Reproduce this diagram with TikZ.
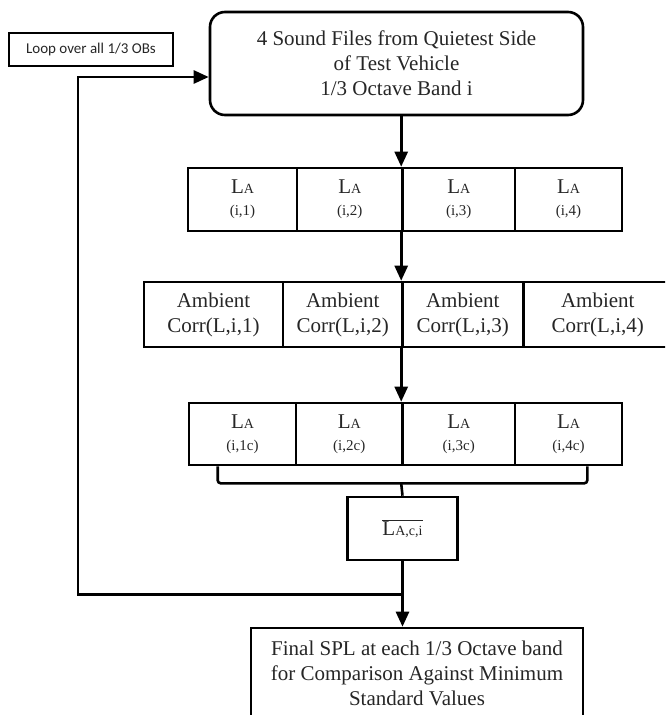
\documentclass[tikz,border=0pt]{standalone}
\usepackage{fontspec}
\setmainfont{Liberation Serif}
\newfontfamily\loopfont{Carlito}
\usetikzlibrary{positioning,calc,arrows.meta}
\tikzset{>={Triangle[length=15pt,width=13pt]}}
\tikzset{
  box/.style={draw,line width=2.6pt,inner sep=0pt,align=center,
    font=\fontsize{21}{25}\selectfont,text=black!85},
  lacell/.style={box,minimum height=63pt},
  ambcell/.style={box,minimum height=65pt},
  conn/.style={line width=2.6pt},
}
\newcommand{\lalabel}[1]{L{\fontsize{14}{16}\selectfont A}\\[-3pt]{\fontsize{15}{16}\selectfont (#1)}}

\begin{document}
\begin{tikzpicture}[x=1pt,y=-1pt]
\useasboundingbox (0,0) rectangle (665,715);
\clip (0,0) rectangle (665,715);

% Loop label and source files
\node[draw,line width=1.6pt,minimum width=164pt,minimum height=33pt,inner sep=0pt,
  font=\loopfont\fontsize{15}{18}\selectfont,text=black!85] (lbl) at (91,49.5) {Loop over all 1/3 OBs};
\node[box,rounded corners=15pt,minimum width=373pt,minimum height=103pt] (snd) at (396.5,63.5)
  {4 Sound Files from Quietest Side\\of Test Vehicle\\1/3 Octave Band i};

% Row of band levels
\node[lacell,minimum width=109pt] (a1) at (242.5,199.5) {\lalabel{i,1}};
\node[lacell,minimum width=105.5pt] (a2) at (349.75,199.5) {\lalabel{i,2}};
\node[lacell,minimum width=112.5pt] (a3) at (458.75,199.5) {\lalabel{i,3}};
\node[lacell,minimum width=107pt] (a4) at (568.5,199.5) {\lalabel{i,4}};

% Row of ambient corrections
\node[ambcell,minimum width=139pt] (b1) at (213.5,314.5) {Ambient\\Corr(L,i,1)};
\node[ambcell,minimum width=119.5pt] (b2) at (342.75,314.5) {Ambient\\Corr(L,i,2)};
\node[ambcell,minimum width=120.5pt] (b3) at (462.75,314.5) {Ambient\\Corr(L,i,3)};
\node[ambcell,minimum width=149pt] (b4) at (597.75,314.5) {Ambient\\Corr(L,i,4)};

% Row of corrected levels
\node[lacell,minimum width=107pt,minimum height=62pt] (c1) at (242.5,434) {\lalabel{i,1c}};
\node[lacell,minimum width=106.5pt,minimum height=62pt] (c2) at (349.25,434) {\lalabel{i,2c}};
\node[lacell,minimum width=112.5pt,minimum height=62pt] (c3) at (458.75,434) {\lalabel{i,3c}};
\node[lacell,minimum width=107pt,minimum height=62pt] (c4) at (568.5,434) {\lalabel{i,4c}};

% Average and final result
\node[box,minimum width=110pt,minimum height=63pt] (avg) at (402.5,528.5)
  {$\overline{\hbox{L\fontsize{14}{16}\selectfont A,c,i}}$};
\node[box,minimum width=332pt,minimum height=90pt] (fin) at (417,673)
  {Final SPL at each 1/3 Octave band\\for Comparison Against Minimum\\Standard Values};

% Connectors down the middle
\draw[conn,->] (a3.north west |- snd.south) -- (a3.north west);
\draw[conn,->] (a3.south west) -- (b3.north west);
\draw[conn,->] (b3.south west) -- (c3.north west);

% Bracket under corrected levels
\draw[conn,rounded corners=3pt] ([xshift=30pt]c1.south west) -- ++(0,17) -| ([xshift=-36pt]c4.south east);
\coordinate (brk) at ($(c3.south west)+(0,17)$);
\draw[conn] (brk) -- (avg.north);
\draw[conn,->] (avg.south) -- (avg.south |- fin.north);

% Loop back to the source files
\coordinate (jn) at ($(avg.south)+(0,33)$);
\coordinate (lp) at (78,0);
\draw[conn,->] (jn) -- (jn -| lp) |- ([yshift=-13.5pt]snd.west);
\end{tikzpicture}
\end{document}
